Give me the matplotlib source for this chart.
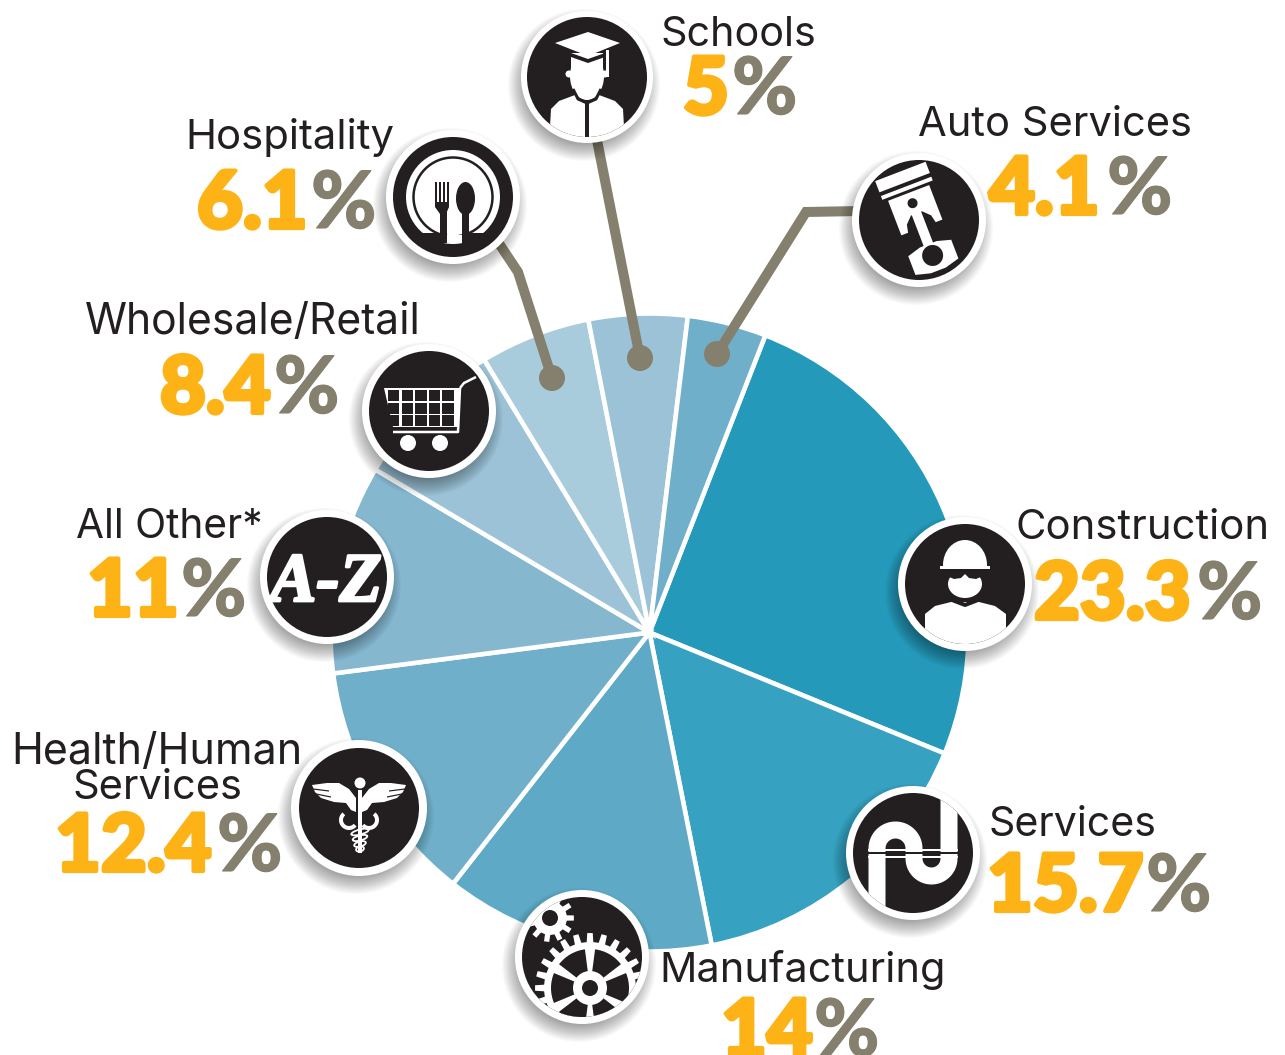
import numpy as np
import matplotlib
matplotlib.use("Agg")
import matplotlib.pyplot as plt
import matplotlib.patheffects as pe
from matplotlib.patches import Circle, Ellipse, Rectangle, Polygon, Wedge, PathPatch
from matplotlib.path import Path
from matplotlib.transforms import Affine2D

# ---------- data ----------
categories = ["Construction", "Services", "Manufacturing", "Health/Human\nServices", "All Other*",
              "Wholesale/Retail", "Hospitality", "Schools", "Auto Services"]
printed_percent = ["23.3", "15.7", "14", "12.4", "11", "8.4", "6.1", "5", "4.1"]
# slice shares as actually drawn in the picture (they differ a little from the printed numbers)
drawn_share = [25.3, 15.7, 13.7, 12.4, 10.6, 7.8, 5.6, 5.0, 4.0]
slice_colors = ["#2499BA", "#36A1C0", "#5EA9C5", "#6FAFCA", "#85B7CF",
                "#9BC2D6", "#A9CCDD", "#9BC2D6", "#6FAFCA"]

GOLD, TAUPE, DARK = "#FDB316", "#857F6D", "#231F20"
W, H = 1285, 1055
fig = plt.figure(figsize=(W / 100, H / 100), dpi=100, facecolor="white")
ax = fig.add_axes([0, 0, 1, 1])
CX, CY, R = 649.5, 632.5, 319
ax.pie(drawn_share, colors=slice_colors, center=(CX, CY), radius=R, startangle=21.3 - 90,
       counterclock=True, wedgeprops=dict(edgecolor="white", linewidth=3.3), normalize=True)
ax.set_xlim(0, W)
ax.set_ylim(H, 0)
ax.set_aspect("equal")
ax.axis("off")
px = 0.72
renderer = fig.canvas.get_renderer()

# ---------- connectors ----------
connectors = [([(597, 140), (640, 358)]),
              ([(860, 211), (806, 212), (717, 354)]),
              ([(498, 242), (518, 272), (552, 378)])]
for pts in connectors:
    xs, ys = zip(*pts)
    ax.plot(xs, ys, color=TAUPE, lw=10 * px, solid_joinstyle="miter", zorder=3)
    ax.add_patch(Circle(pts[-1], 13, color=TAUPE, lw=0, zorder=3))

# ---------- helpers ----------
Z = 5
class Icon:
    def __init__(self, cx, cy, outer=67, inner=60):
        self.cx, self.cy = cx, cy
        for k in range(18):
            ax.add_patch(Circle((cx - 3, cy + 8), outer + 10 - k * 1.1, color="black", alpha=0.022, lw=0, zorder=Z))
        ax.add_patch(Circle((cx, cy), outer, color="white", lw=0, zorder=Z + 1))
        self.clip = Circle((cx, cy), inner, color=DARK, lw=0, zorder=Z + 2)
        ax.add_patch(self.clip)
        self.tr = Affine2D().translate(cx, cy)

    def rot(self, deg):
        self.tr = Affine2D().rotate_deg(deg).translate(self.cx, self.cy)

    def add(self, p):
        p.set_transform(self.tr + ax.transData)
        p.set_zorder(Z + 3)
        ax.add_patch(p)
        p.set_clip_path(self.clip)
        return p

    def poly(self, pts, c="white"):
        return self.add(Polygon(pts, closed=True, fc=c, ec="none"))

    def circ(self, x, y, r, c="white"):
        return self.add(Circle((x, y), r, fc=c, ec="none"))

    def ell(self, x, y, w, h, c="white", a=0):
        return self.add(Ellipse((x, y), w, h, angle=a, fc=c, ec="none"))

    def rect(self, x, y, w, h, c="white"):
        return self.add(Rectangle((x, y), w, h, fc=c, ec="none"))

    def line(self, pts, lw, c="white", cap="butt"):
        p = PathPatch(Path(pts), fc="none", ec=c, lw=lw * px, capstyle=cap, joinstyle="round")
        return self.add(p)

def arc(cx, cy, r, a0, a1, n=30):
    t = np.radians(np.linspace(a0, a1, n))
    return list(zip(cx + r * np.cos(t), cy + r * np.sin(t)))

# ---------- icons ----------
# Schools
ic = Icon(587, 77, 66, 60)
ic.poly([(-37, 50), (-36, 32), (-28, 24), (-12, 18), (-4, 24), (4, 24), (12, 18), (28, 24), (36, 32), (37, 50), (37, 70), (-37, 70)])
ic.ell(0, -1, 34, 48)
ic.circ(-18, -3, 3.5)
ic.circ(18, -3, 3.5)
ic.rect(-16, -24, 32, 16)
ic.poly([(-32, -34), (1, -45), (33, -34), (1, -21)])
ic.poly([(-16, -24), (1, -18), (18, -24), (18, -20), (1, -14), (-16, -20)], DARK)
ic.rect(19, -27, 3, 27)
ic.line([(-14, 12), (-9, 22), (0, 26), (9, 22), (14, 12)], 3, DARK)
ic.rect(-2, 24, 4, 38, DARK)

# Hospitality
ic = Icon(453, 197, 67, 60)
ic.circ(0, 0, 47)
ic.add(Circle((0, 0), 39.5, fc="none", ec=DARK, lw=2.5 * px))
for dx in (-18, -14, -10, -6):
    ic.rect(dx, -15, 2, 22, DARK)
ic.poly([(-18, 5), (-4, 5), (-4, 10), (-7, 17), (-13, 17), (-18, 10)], DARK)
ic.rect(-13, 15, 6.5, 31, DARK)
ic.ell(12.5, 1.5, 19, 33, DARK)
ic.rect(9, 14, 6.5, 32, DARK)
ic.rect(-30, 36, 17.5, 13, DARK)
ic.rect(15, 36, 18, 13, DARK)
ic.rect(-6.5, 38, 15.5, 8)

# Auto Services
ic = Icon(919, 220, 67, 60)
ic.rot(-21)
ic.rect(-27, -52, 54, 12)
ic.rect(-27, -36, 54, 4)
ic.rect(-22, -29, 44, 37)
ic.poly([(-15, 9), (-13, 0), (-6, -7), (6, -7), (13, 0), (15, 9)], DARK)
ic.circ(0, -18, 5, DARK)
ic.rect(-5, -8, 10, 38)
ic.poly([(-23, 30), (-9, 26), (9, 26), (23, 30), (23, 50), (8, 54), (-8, 54), (-23, 50)])
ic.circ(0, 38, 10.5, DARK)

# Wholesale / Retail
ic = Icon(429, 411, 67, 60)
ic.poly([(-45, -23), (31, -23), (29, 16), (-36, 16)], "white")
rows = [-21, -8, 4]
for i in range(5):
    for ry in rows:
        ic.rect(-41 + i * 13.6, ry, 11.4, 10.5, DARK)
ic.line([(31, -23), (35, -28), (47, -34)], 2.5)
ic.line([(31, -23), (29, 21), (-36, 21)], 2.5)
ic.circ(-21, 32, 8)
ic.circ(11, 32, 8)

# All other
ic = Icon(327, 577, 67, 60)
t = ax.text(326, 601, "A-Z", color="white", family="Liberation Serif", weight="bold", style="italic",
            fontsize=50, ha="center", va="baseline", zorder=Z + 3,
            path_effects=[pe.withStroke(linewidth=2.0, foreground="white")])
t.set_fontsize(50 * 112 / t.get_window_extent(renderer).width)

# Health
ic = Icon(359, 808, 68, 60)
for s in (-1, 1):
    ic.poly([(s * 47, -23), (s * 32, -25), (s * 20, -25), (s * 10, -19), (s * 3, -10), (s * 3, 4),
             (s * 8, 2), (s * 13, -5), (s * 25, -6), (s * 38, -10), (s * 44, -16)])
    ic.line([(s * 46, -19), (s * 30, -17)], 1.2, DARK)
    ic.line([(s * 43, -14), (s * 28, -11)], 1.2, DARK)
    ic.line(arc(s * 10, 12, 8, 270 + s * 40, 270 + s * 230), 4)
ic.circ(1, -25, 5.5)
ic.rect(-0.8, -18, 3.5, 63)
for yy, ww in ((24, 18), (30, 15), (36, 12), (41, 8)):
    ic.add(Ellipse((1, yy), ww, 5, angle=-15, fc="none", ec="white", lw=1.8 * px))

# Construction
ic = Icon(965, 584, 67, 60)
ic.poly([(-40, 46), (-40, 30), (-30, 22), (-14, 18), (14, 18), (30, 22), (41, 30), (41, 60), (-40, 60)])
ic.line([(-16, 4), (-13, 16), (0, 21), (13, 16), (16, 4)], 4, DARK)
ic.ell(0, -19, 44, 50)
ic.rect(-30, -17, 60, 30, DARK)
ic.ell(0, 0, 34, 28)
ic.rect(-25, -18, 50, 3)
ic.poly([(-20, -15), (20, -15), (18, -8), (11, -5), (4, -6), (0, -10), (-4, -6), (-11, -5), (-18, -8)], DARK)

# Services (pipe)
ic = Icon(913, 853, 67, 60)
off = lambda pts: [(x - 913, y - 853) for x, y in pts]
pipe = [(877, 930)] + arc(895.5, 848.5, 18.5, 180, 360) + arc(931.5, 858.5, 17.5, 180, 0) + [(949, 780)]
ic.line(off(pipe), 17)
ic.rect(-45, -4, 90, 2)
ic.rect(-45, 3, 90, 2)
ic.rect(-45, -1, 90, 2, DARK)

# Manufacturing (gears)
def gear(icn, x, y, r_out, r_root, n, r_ring, r_hub, r_hole, spokes):
    pts = []
    for k in range(n):
        a = 2 * np.pi * k / n
        d = np.pi / n
        for aa, rr in ((a - d * .55, r_root), (a - d * .38, r_out), (a + d * .38, r_out), (a + d * .55, r_root)):
            pts.append((x + rr * np.cos(aa), y + rr * np.sin(aa)))
    icn.poly(pts)
    if spokes:
        sw = 360 / spokes
        for k in range(spokes):
            a0 = -90 + k * sw + 7.5
            a1 = -90 + (k + 1) * sw - 7.5
            icn.add(Wedge((x, y), r_ring, a0, a1, width=r_ring - r_hub, fc=DARK, ec="none"))
    icn.circ(x, y, r_hole, DARK)

ic = Icon(582, 957, 67, 60)
gear(ic, 8, 31, 55, 46, 24, 39, 17, 8, 6)
gear(ic, -32, -39, 24, 17, 11, 0, 0, 8, 0)

# ---------- labels ----------
# label text x-span and baseline, number x-start, percent-sign x-start, baseline
layout = {
    "Schools": ((662, 814, 46), 686, 733, 113),
    "Auto Services": ((920, 1190, 136), 992, 1108, 213),
    "Hospitality": ((187, 392, 149), 200, 312, 227),
    "Wholesale/Retail": ((87, 419, 334), 163, 275, 412),
    "All Other*": ((78, 261, 538), 90, 182, 615),
    "Construction": ((1018, 1268, 539), 1037, 1198, 618),
    "Services": ((991, 1155, 836), 990, 1147, 910),
    "Manufacturing": ((661, 943, 982), 724, 815, 1055),
    "Health/Human\nServices": (None, 58, 218, 870),
}

def fit(s, x0, x1, y, color, **kw):
    t = ax.text(x0, y, s, color=color, ha="left", va="baseline", fontsize=30, zorder=8, **kw)
    w = t.get_window_extent(renderer).width
    t.set_fontsize(30 * (x1 - x0 + 4) / w)
    t.set_x(x0 - 2)
    return t

def big(s, x0, y, color, stroke, shift):
    t = ax.text(x0 - shift, y + 1, s, color=color, ha="left", va="baseline", fontsize=57, zorder=8,
                family="Lato", weight="black",
                path_effects=[pe.withStroke(linewidth=stroke, foreground=color)])
    return t

LABEL = dict(family="Inter")

for cat, val in zip(categories, printed_percent):
    lab, nx, sx, base = layout[cat]
    if lab:
        fit(cat, lab[0], lab[1], lab[2], DARK, **LABEL)
    else:
        a, b = cat.split("\n")
        fit(a, 13, 300, 764, DARK, **LABEL)
        fit(b, 74, 240, 799, DARK, **LABEL)
    big(val, nx, base, GOLD, 3.0, 3)
    big("%", sx, base, TAUPE, 0.8, 1)

fig.savefig("out.png", dpi=100, facecolor="white")
